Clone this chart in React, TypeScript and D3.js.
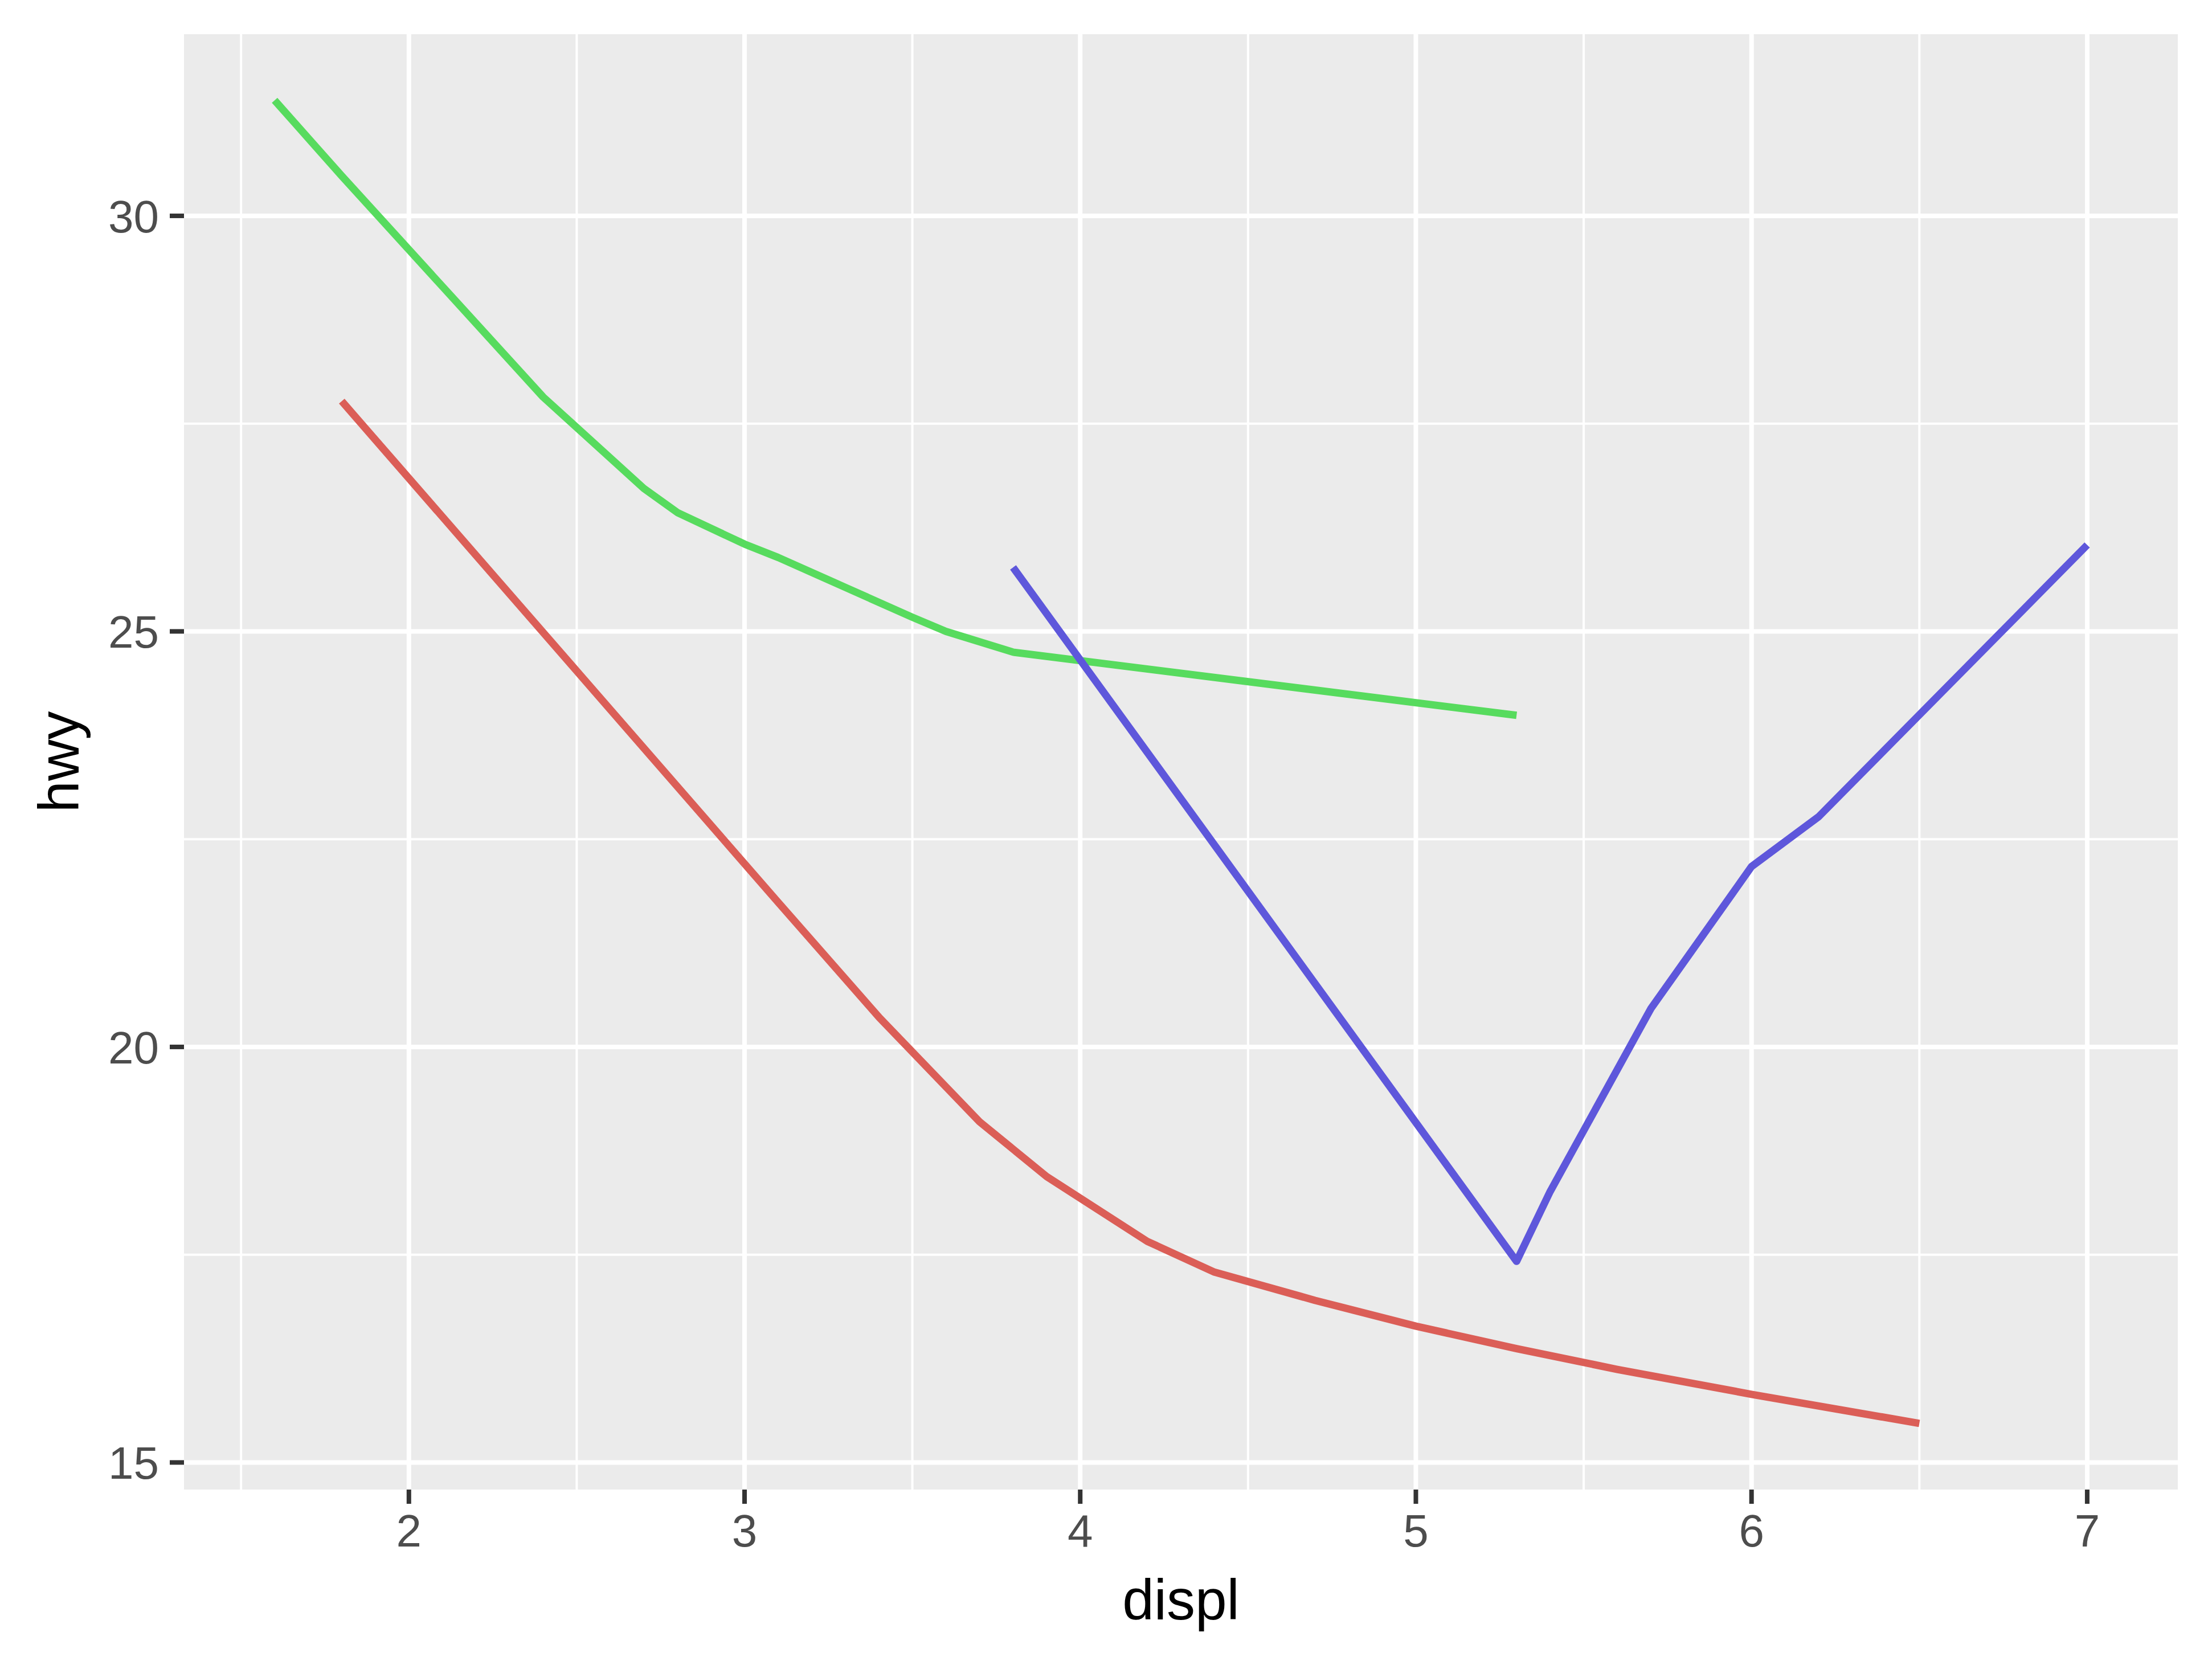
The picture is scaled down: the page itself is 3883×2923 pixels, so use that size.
import React from "react";
import * as d3 from "d3";

// drv = "4"
const redX = [1.8, 3.1, 3.4, 3.7, 3.9, 4.2, 4.4, 4.7, 5.0, 5.3, 5.6, 6.0, 6.5];
const redY = [27.77, 21.74, 20.36, 19.1, 18.44, 17.66, 17.29, 16.95, 16.64, 16.37, 16.12, 15.82, 15.47];
// drv = "f"
const greenX = [1.6, 1.8, 2.4, 2.7, 2.8, 3.0, 3.1, 3.3, 3.5, 3.6, 3.8, 5.3];
const greenY = [31.39, 30.48, 27.82, 26.72, 26.43, 26.05, 25.89, 25.53, 25.17, 25.0, 24.75, 23.99];
// drv = "r"
const blueX = [3.8, 5.3, 5.4, 5.7, 6.0, 6.2, 7.0];
const blueY = [25.77, 17.42, 18.26, 20.46, 22.17, 22.77, 26.04];

const seriesColors = ["#DB5E57", "#57DB5E", "#5E57DB"];
const xTicks = [2, 3, 4, 5, 6, 7];
const xMinor = [1.5, 2.5, 3.5, 4.5, 5.5, 6.5];
const yTicks = [15, 20, 25, 30];
const yMinor = [17.5, 22.5, 27.5];
const xTitle = "displ";
const yTitle = "hwy";

const W = 3883;
const H = 2923;
const panel = { left: 323, right: 3823, top: 60, bottom: 2615 };
const FONT = "'Liberation Sans', Arial, Helvetica, sans-serif";

function expand(ext: [number, number]): [number, number] {
  const r = ext[1] - ext[0];
  return [ext[0] - 0.05 * r, ext[1] + 0.05 * r];
}

export default function App() {
  const series = [
    { xs: redX, ys: redY, color: seriesColors[0] },
    { xs: greenX, ys: greenY, color: seriesColors[1] },
    { xs: blueX, ys: blueY, color: seriesColors[2] },
  ];
  const allX = [...redX, ...greenX, ...blueX];
  const allY = [...redY, ...greenY, ...blueY];
  const x = d3
    .scaleLinear()
    .domain(expand(d3.extent(allX) as [number, number]))
    .range([panel.left, panel.right]);
  const y = d3
    .scaleLinear()
    .domain(expand(d3.extent(allY) as [number, number]))
    .range([panel.bottom, panel.top]);

  const line = d3
    .line<[number, number]>()
    .x((d) => x(d[0]))
    .y((d) => y(d[1]));

  const tickLen = 25;
  return (
    <svg
      width={W}
      height={H}
      style={{ position: "absolute", left: 0, top: 0, display: "block", background: "#fff" }}
    >
      <rect x={0} y={0} width={W} height={H} fill="#fff" />
      <rect
        x={panel.left}
        y={panel.top}
        width={panel.right - panel.left}
        height={panel.bottom - panel.top}
        fill="#EBEBEB"
      />
      {xMinor.map((t) => (
        <line key={"xm" + t} x1={x(t)} x2={x(t)} y1={panel.top} y2={panel.bottom} stroke="#fff" strokeWidth={4} />
      ))}
      {yMinor.map((t) => (
        <line key={"ym" + t} x1={panel.left} x2={panel.right} y1={y(t)} y2={y(t)} stroke="#fff" strokeWidth={4} />
      ))}
      {xTicks.map((t) => (
        <line key={"xg" + t} x1={x(t)} x2={x(t)} y1={panel.top} y2={panel.bottom} stroke="#fff" strokeWidth={8} />
      ))}
      {yTicks.map((t) => (
        <line key={"yg" + t} x1={panel.left} x2={panel.right} y1={y(t)} y2={y(t)} stroke="#fff" strokeWidth={8} />
      ))}
      {series.map((s, i) => (
        <path
          key={"s" + i}
          d={line(s.xs.map((v, j) => [v, s.ys[j]] as [number, number])) || ""}
          fill="none"
          stroke={s.color}
          strokeWidth={13}
          strokeLinejoin="round"
          strokeLinecap="butt"
        />
      ))}
      {xTicks.map((t) => (
        <g key={"xt" + t}>
          <line x1={x(t)} x2={x(t)} y1={panel.bottom} y2={panel.bottom + tickLen} stroke="#333333" strokeWidth={8} />
          <text x={x(t)} y={2715} textAnchor="middle" fontFamily={FONT} fontSize={80} fill="#4D4D4D">
            {t}
          </text>
        </g>
      ))}
      {yTicks.map((t) => (
        <g key={"yt" + t}>
          <line x1={panel.left - tickLen} x2={panel.left} y1={y(t)} y2={y(t)} stroke="#333333" strokeWidth={8} />
          <text
            x={279}
            y={y(t)}
            dy="0.36em"
            textAnchor="end"
            fontFamily={FONT}
            fontSize={80}
            fill="#4D4D4D"
          >
            {t}
          </text>
        </g>
      ))}
      <text
        x={(panel.left + panel.right) / 2}
        y={2843}
        textAnchor="middle"
        fontFamily={FONT}
        fontSize={100}
        fill="#000"
      >
        {xTitle}
      </text>
      <text
        transform={`translate(138, ${(panel.top + panel.bottom) / 2}) rotate(-90)`}
        textAnchor="middle"
        fontFamily={FONT}
        fontSize={100}
        fill="#000"
      >
        {yTitle}
      </text>
    </svg>
  );
}
